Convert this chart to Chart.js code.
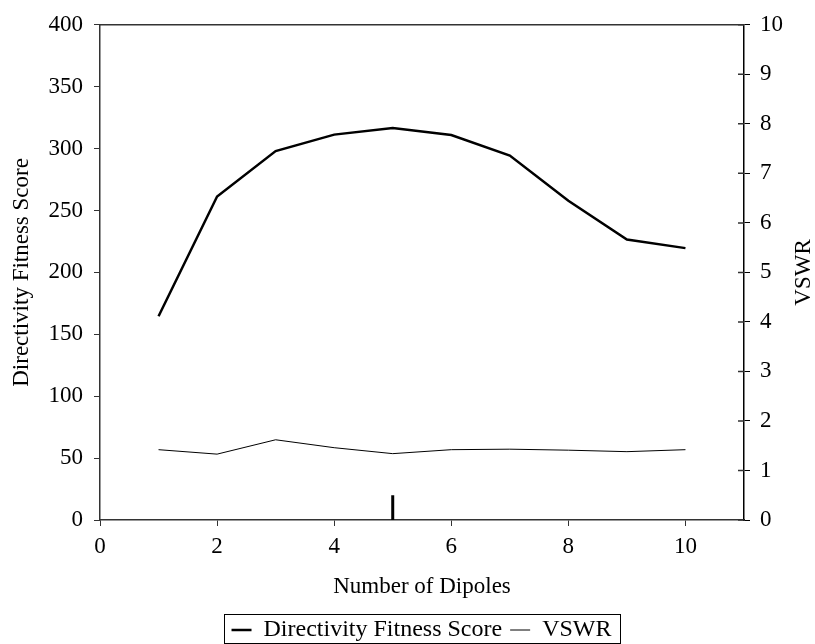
<!DOCTYPE html>
<html>
<head>
<meta charset="utf-8">
<script src="https://cdn.jsdelivr.net/npm/chart.js@4"></script>
<style>
  html, body { margin: 0; padding: 0; background: #fff; }
  #wrap { width: 815px; height: 644px; }
</style>
</head>
<body>
<div id="wrap"><canvas id="dipoleChart" width="815" height="644"></canvas></div>
<script>
// Data
const dipoles = [1, 2, 3, 4, 5, 6, 7, 8, 9, 10];
const directivity = [164.6, 261.3, 298, 311.3, 316.6, 311, 294.4, 257.9, 226.6, 219.6];
const vswr = [1.42, 1.33, 1.62, 1.46, 1.34, 1.42, 1.43, 1.41, 1.38, 1.42];
const markX = [5, 5];
const markY = [0, 20];

const FONT = 'Liberation Serif';
const INK = '#000';
const AXIS = '#333';

const toPoints = (xs, ys) => xs.map((x, i) => ({ x: x, y: ys[i] }));

// Frame line on top, cross ticks on right axis, legend box, right title
const extras = {
    id: 'extras',
    afterLayout(chart) {
        // nudge legend under the plot centre, a bit lower
        const lg = chart.legend;
        lg.left += 14; lg.right += 14;
        lg.top += 8; lg.bottom += 8;
    },
    afterDraw(chart) {
        const c = chart.ctx;
        const area = chart.chartArea;
        c.save();
        c.strokeStyle = AXIS;
        c.lineWidth = 1.5;
        c.beginPath();
        c.moveTo(area.left, area.top);
        c.lineTo(area.right, area.top);
        c.stroke();

        const y2 = chart.scales.y2;
        c.beginPath();
        y2.ticks.forEach(t => {
            const py = y2.getPixelForValue(t.value);
            c.moveTo(area.right - 6, py);
            c.lineTo(area.right, py);
        });
        c.stroke();

        // legend border
        const boxes = chart.legend.legendHitBoxes;
        if (boxes && boxes.length) {
            const l = Math.min(...boxes.map(b => b.left)) - 8;
            const r = Math.max(...boxes.map(b => b.left + b.width)) + 8;
            const t = Math.min(...boxes.map(b => b.top)) - 4;
            c.strokeStyle = '#000';
            c.lineWidth = 1;
            c.strokeRect(Math.round(l) + 0.5, Math.round(t) + 0.5, Math.round(r - l), chart.height - Math.round(t) - 1);
        }

        // right axis title, reading bottom to top
        c.fillStyle = INK;
        c.font = '23px "' + FONT + '"';
        c.textAlign = 'center';
        c.textBaseline = 'middle';
        c.translate(804, (area.top + area.bottom) / 2);
        c.rotate(-Math.PI / 2);
        c.fillText('VSWR', 0, 0);
        c.restore();
    }
};

const ctx = document.getElementById('dipoleChart').getContext('2d');
const dipoleChart = new Chart(ctx, {
    type: 'line',
    data: {
        datasets: [
            {
                label: 'Directivity Fitness Score',
                data: toPoints(dipoles, directivity),
                borderColor: '#000',
                borderWidth: 2.5,
                pointRadius: 0,
                tension: 0,
                yAxisID: 'y'
            },
            {
                label: 'VSWR',
                data: toPoints(dipoles, vswr),
                borderColor: '#000',
                borderWidth: 1,
                pointRadius: 0,
                tension: 0,
                yAxisID: 'y2'
            },
            {
                label: 'marker',
                data: toPoints(markX, markY),
                borderColor: '#000',
                borderWidth: 3,
                pointRadius: 0,
                yAxisID: 'y'
            }
        ]
    },
    options: {
        responsive: false,
        animation: false,
        devicePixelRatio: 1,
        layout: { padding: { top: 21, left: 0, right: 0, bottom: 0 } },
        plugins: {
            tooltip: { enabled: false },
            legend: {
                position: 'bottom',
                labels: {
                    filter: item => item.text !== 'marker',
                    usePointStyle: true,
                    pointStyle: 'line',
                    pointStyleWidth: 20,
                    color: INK,
                    padding: 8,
                    font: { family: FONT, size: 24 }
                }
            }
        },
        scales: {
            x: {
                type: 'linear',
                min: 0,
                max: 11,
                border: { color: AXIS, width: 1.5 },
                grid: { drawOnChartArea: false, tickLength: 6, tickColor: AXIS },
                ticks: { stepSize: 2, includeBounds: false, padding: 7, color: INK, font: { family: FONT, size: 23 } },
                title: { display: true, text: 'Number of Dipoles', color: INK, padding: { bottom: 1 }, font: { family: FONT, size: 23 } },
                afterFit: s => { s.height = 644 - 520 - s.chart.legend.height; }
            },
            y: {
                position: 'left',
                min: 0,
                max: 400,
                border: { color: AXIS, width: 1.5 },
                grid: { drawOnChartArea: false, tickLength: 6, tickColor: AXIS },
                ticks: { stepSize: 50, padding: 11, color: INK, font: { family: FONT, size: 23 } },
                title: { display: true, text: 'Directivity Fitness Score', color: INK, padding: { top: 8 }, font: { family: FONT, size: 23 } },
                afterFit: s => { s.width = 100; }
            },
            y2: {
                position: 'right',
                min: 0,
                max: 10,
                border: { color: '#000', width: 1.5 },
                grid: { drawOnChartArea: false, tickLength: 6, tickColor: '#000' },
                ticks: { stepSize: 1, padding: 10, color: INK, font: { family: FONT, size: 23 } },
                afterFit: s => { s.width = 71; }
            }
        }
    },
    plugins: [extras]
});
</script>
</body>
</html>
